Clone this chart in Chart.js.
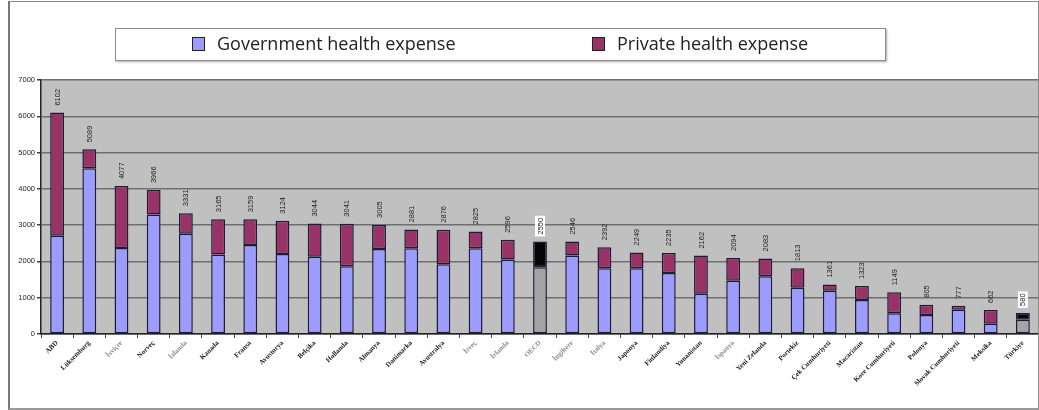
<!DOCTYPE html>
<html>
<head>
<meta charset="utf-8">
<script src="https://cdn.jsdelivr.net/npm/chart.js@4/dist/chart.umd.min.js"></script>
<style>
  html, body { margin: 0; padding: 0; background: #fff; }
  #wrap { position: relative; width: 1039px; height: 410px; overflow: hidden; }
  #chart { position: absolute; left: 0; top: 0; }
  #frame {
    position: absolute; left: 8px; top: 1px; width: 1028px; height: 406px;
    border: 1px solid #8a8a8a; border-left: 2px solid #777; border-bottom: 2px solid #999;
    pointer-events: none;
  }
  #legend {
    position: absolute; left: 115px; top: 28px; width: 769px; height: 31px;
    border: 1px solid #8c8c8c; background: #fff;
    box-shadow: 1px 1px 2px #aaa;
    font-family: "Open Sans", sans-serif; font-size: 18px; color: #222;
  }
  .item { position: absolute; top: 2px; white-space: nowrap; }
  .swatch {
    display: inline-block; width: 11px; height: 12px; border: 1px solid #222;
    vertical-align: -1px; margin-right: 12px;
  }
</style>
</head>
<body>
<div id="wrap">
  <canvas id="chart" width="1039" height="410"></canvas>
  <div id="legend">
    <span class="item" style="left:76px"><span class="swatch" style="background:#9c9cff"></span>Government health expense</span>
    <span class="item" style="left:476px"><span class="swatch" style="background:#993366"></span>Private health expense</span>
  </div>
  <div id="frame"></div>
</div>
<script>
const countries = ["ABD", "Lüksemburg", "İsviçre", "Norveç", "İzlanda", "Kanada", "Fransa", "Avusturya",
  "Belçika", "Hollanda", "Almanya", "Danimarka", "Avustralya", "İsveç", "İrlanda", "OECD", "İngiltere",
  "İtalya", "Japonya", "Finlandiya", "Yunanistan", "İspanya", "Yeni Zelanda", "Portekiz",
  "Çek Cumhuriyeti", "Macaristan", "Kore Cumhuriyeti", "Polonya", "Slovak Cumhuriyeti", "Meksika", "Türkiye"];

// per-capita spending, split into public and private parts
const government = [2705, 4570, 2370, 3296, 2760, 2190, 2455, 2205, 2130, 1865, 2345, 2365, 1920, 2365,
  2050, 1837, 2160, 1810, 1810, 1680, 1110, 1470, 1590, 1275, 1190, 940, 575, 525, 665, 280, 390];
const privateSpend = [3397, 519, 1707, 670, 571, 975, 704, 919, 914, 1176, 660, 516, 956, 460,
  546, 713, 386, 582, 439, 555, 1052, 624, 493, 538, 171, 383, 574, 280, 112, 382, 190];

const yTicks = [0, 1000, 2000, 3000, 4000, 5000, 6000, 7000];

// OECD average and Türkiye get grey/black instead of the series colours
const highlighted = ["OECD", "Türkiye"];
const greyLabels = ["İsviçre", "İzlanda", "İsveç", "İrlanda", "OECD", "İngiltere", "İtalya", "İspanya"];

const govColors = countries.map(c => highlighted.includes(c) ? '#a3a3a3' : '#9c9cff');
const privColors = countries.map(c => highlighted.includes(c) ? '#050505' : '#993366');

const plotBackground = {
  id: 'plotBackground',
  beforeDraw(chart) {
    const { ctx, chartArea: a } = chart;
    ctx.save();
    ctx.fillStyle = '#c0c0c0';
    ctx.fillRect(a.left, a.top, a.right - a.left, a.bottom - a.top);
    ctx.restore();
  }
};

// totals written vertically above each stacked bar
const totalLabels = {
  id: 'totalLabels',
  afterDatasetsDraw(chart) {
    const ctx = chart.ctx;
    const meta = chart.getDatasetMeta(1);
    ctx.save();
    ctx.font = '7.5px Arial';
    ctx.textBaseline = 'middle';
    ctx.textAlign = 'left';
    meta.data.forEach((bar, i) => {
      const text = String(government[i] + privateSpend[i]);
      ctx.save();
      ctx.translate(bar.x, bar.y - 7);
      ctx.rotate(-Math.PI / 2);
      const w = ctx.measureText(text).width;
      if (highlighted.includes(countries[i])) {
        ctx.fillStyle = '#fff';
        ctx.fillRect(-2, -5, w + 4, 10);
      }
      ctx.fillStyle = '#222';
      ctx.fillText(text, 0, 0.5);
      ctx.restore();
    });
    ctx.restore();
  }
};

new Chart(document.getElementById('chart'), {
  type: 'bar',
  data: {
    labels: countries,
    datasets: [
      {
        label: 'Government health expense',
        data: government,
        backgroundColor: govColors,
        borderColor: '#1c1c3a',
        borderWidth: 1.5,
        borderSkipped: false,
        barPercentage: 0.43,
        categoryPercentage: 1
      },
      {
        label: 'Private health expense',
        data: privateSpend,
        backgroundColor: privColors,
        borderColor: '#1c1c3a',
        borderWidth: 1.5,
        borderSkipped: false,
        barPercentage: 0.43,
        categoryPercentage: 1
      }
    ]
  },
  options: {
    responsive: false,
    animation: false,
    layout: { padding: { top: 80, left: 0, right: 0, bottom: 0 } },
    plugins: {
      legend: { display: false },
      tooltip: { enabled: false }
    },
    scales: {
      x: {
        stacked: true,
        afterFit(axis) { axis.height = 76; },
        grid: { drawOnChartArea: false, offset: true, tickLength: 4, color: '#444' },
        border: { color: '#222', width: 1.5 },
        ticks: {
          autoSkip: false,
          minRotation: 45,
          maxRotation: 45,
          padding: 1,
          font: { family: 'Liberation Serif', size: 7, weight: 'bold' },
          color: ctx => greyLabels.includes(countries[ctx.index]) ? '#8a8a8a' : '#1a1a1a'
        }
      },
      y: {
        stacked: true,
        min: 0,
        max: 7000,
        afterFit(axis) { axis.width = 41; },
        afterBuildTicks(axis) { axis.ticks = yTicks.map(v => ({ value: v })); },
        grid: { color: '#6f6f6f', lineWidth: 1.5, tickLength: 4, tickColor: '#444' },
        border: { color: '#222', width: 1.5 },
        ticks: {
          padding: 2,
          font: { family: 'Arial', size: 7.5 },
          color: '#222',
          callback: value => String(value)
        }
      }
    }
  },
  plugins: [plotBackground, totalLabels]
});
</script>
</body>
</html>
